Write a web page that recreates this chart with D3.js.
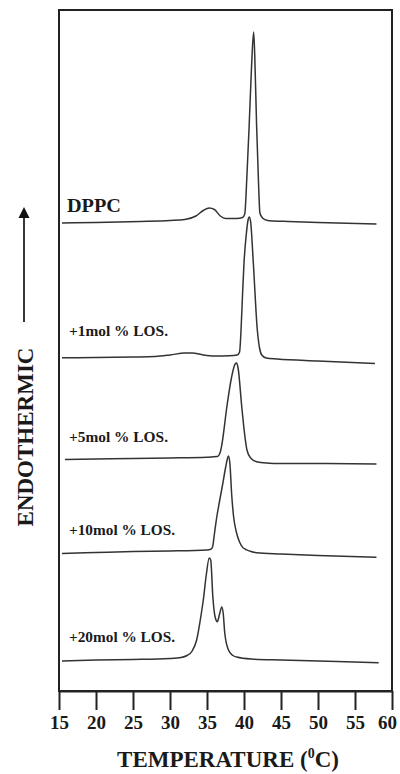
<!DOCTYPE html>
<html>
<head>
<meta charset="utf-8">
<script src="https://cdn.jsdelivr.net/npm/d3@7/dist/d3.min.js"></script>
<style>
  html, body { margin: 0; padding: 0; background: #fff; }
  svg { display: block; }
  text { font-family: "Liberation Serif", "DejaVu Serif", serif; font-weight: bold; fill: #1a1a1a; }
</style>
</head>
<body>
<svg id="chart" width="400" height="774"></svg>
<script>
// ---- Data (temperature in °C, heat flow in arbitrary offset units) ----
const seriesNames = ["DPPC", "+1mol % LOS.", "+5mol % LOS.", "+10mol % LOS.", "+20mol % LOS."];

const dppcT = [15.4, 20, 26, 30, 32, 33.5, 34.5, 35.3, 36, 36.8, 37.5, 39, 39.8, 40.1, 40.4, 40.7, 41.0, 41.3, 41.45, 41.7, 41.95, 42.15, 42.5, 43.2, 44, 46, 50, 57.9];
const dppcQ = [46.7, 46.75, 46.85, 46.95, 47.05, 47.4, 47.95, 48.2, 48.05, 47.4, 47.15, 47.15, 47.25, 47.6, 51.5, 56.5, 62.0, 65.8, 63.5, 56.5, 51.0, 47.7, 47.2, 46.95, 46.9, 46.85, 46.75, 46.6];

const los1T = [15.4, 20, 25, 28, 30, 32, 33, 34.5, 36, 38, 39.1, 39.4, 39.6, 39.8, 40.0, 40.3, 40.55, 40.72, 40.9, 41.26, 41.8, 42.1, 42.4, 43.0, 44.5, 50, 57.7];
const los1Q = [33.23, 33.25, 33.3, 33.35, 33.5, 33.7, 33.7, 33.5, 33.4, 33.42, 33.5, 33.8, 36.0, 39.5, 42.7, 45.5, 47.0, 47.3, 46.8, 42.7, 36.0, 34.2, 33.5, 33.2, 33.1, 32.9, 32.65];

const los5T = [15.8, 20, 25, 30, 35, 36.4, 36.8, 37.0, 37.7, 38.3, 38.8, 39.0, 39.2, 39.7, 40.1, 40.4, 40.9, 41.7, 43, 45, 50, 57.9];
const los5Q = [23.05, 23.1, 23.15, 23.2, 23.28, 23.35, 23.8, 24.5, 28.4, 31.2, 32.6, 32.7, 32.2, 28.3, 25.5, 24.0, 23.2, 22.83, 22.7, 22.65, 22.65, 22.6];

const los10T = [15.4, 20, 25, 30, 35, 35.5, 35.75, 36.0, 36.3, 36.7, 37.1, 37.5, 37.75, 37.9, 38.1, 38.33, 38.6, 39.0, 39.4, 39.9, 41.7, 45, 50, 57.9];
const los10Q = [13.65, 13.75, 13.85, 13.9, 14.0, 14.08, 14.3, 15.6, 17.2, 18.9, 20.5, 22.2, 23.1, 23.4, 22.6, 19.6, 17.3, 15.7, 14.8, 14.2, 13.73, 13.6, 13.45, 13.27];

const los20T = [15.4, 20, 25, 30, 31.5, 32.3, 33.0, 33.6, 34.2, 34.5, 34.9, 35.3, 35.5, 35.8, 36.1, 36.4, 36.7, 37.0, 37.2, 37.4, 37.9, 38.5, 39.0, 41, 45, 50, 58.2];
const los20Q = [2.9, 3.0, 3.05, 3.15, 3.25, 3.45, 3.9, 5.0, 7.5, 9.0, 11.5, 13.2, 13.0, 9.2, 7.3, 6.83, 7.6, 8.3, 7.6, 5.7, 4.0, 3.45, 3.3, 3.1, 3.0, 2.9, 2.73];

const xTicks = [15, 20, 25, 30, 35, 40, 45, 50, 55, 60];
const xTitle = "TEMPERATURE (";
const yTitle = "ENDOTHERMIC";

// ---- Layout ----
const plot = { left: 59, right: 392, top: 10, bottom: 691 };
const labelLayout = [
  { x: 67, y: 212, size: 18, len: 54 },
  { x: 69, y: 336, size: 15, len: 99 },
  { x: 69, y: 442, size: 15, len: 99 },
  { x: 69, y: 535, size: 15, len: 106 },
  { x: 69, y: 642, size: 15, len: 106 }
];

const svg = d3.select("#chart");

const x = d3.scaleLinear().domain([15, 60]).range([plot.left, plot.right]);
const y = d3.scaleLinear().domain([0, 68]).range([690, 10]);

// frame
svg.append("rect")
  .attr("x", plot.left).attr("y", plot.top)
  .attr("width", plot.right - plot.left).attr("height", plot.bottom - plot.top)
  .attr("fill", "none").attr("stroke", "#222").attr("stroke-width", 2);

// x axis
const axis = d3.axisBottom(x).tickValues(xTicks).tickSize(19).tickSizeOuter(0).tickPadding(6).tickFormat(d3.format("d"));
const gx = svg.append("g").attr("transform", `translate(0,${plot.bottom})`).call(axis);
gx.select(".domain").attr("stroke", "#222").attr("stroke-width", 2);
gx.selectAll(".tick line").attr("stroke", "#222").attr("stroke-width", 2);
gx.selectAll(".tick text")
  .attr("font-family", "Liberation Serif, serif")
  .attr("font-weight", "bold")
  .attr("font-size", 19)
  .attr("fill", "#1a1a1a")
  .attr("dx", d => d === 60 ? -5 : 0);

// x title
const xt = svg.append("text")
  .attr("x", 228).attr("y", 767)
  .attr("text-anchor", "middle")
  .attr("font-size", 23);
xt.append("tspan").text(xTitle);
xt.append("tspan").attr("font-size", 14).attr("dy", -9).text("0");
xt.append("tspan").attr("dy", 9).text("C)");

// y title and arrow
svg.append("text")
  .attr("transform", "translate(32.5,437) rotate(-90)")
  .attr("text-anchor", "middle")
  .attr("font-size", 23)
  .text(yTitle);
svg.append("line")
  .attr("x1", 24).attr("x2", 24).attr("y1", 322).attr("y2", 216)
  .attr("stroke", "#222").attr("stroke-width", 1.8);
svg.append("path")
  .attr("d", d3.line()([[24, 207], [18.5, 218], [29.5, 218]]) + "Z")
  .attr("fill", "#111");

// traces
const traces = [
  d3.zip(dppcT, dppcQ),
  d3.zip(los1T, los1Q),
  d3.zip(los5T, los5Q),
  d3.zip(los10T, los10Q),
  d3.zip(los20T, los20Q)
];
const line = d3.line().x(d => x(d[0])).y(d => y(d[1])).curve(d3.curveMonotoneX);
svg.append("g").selectAll("path").data(traces).join("path")
  .attr("d", line)
  .attr("fill", "none")
  .attr("stroke", "#333")
  .attr("stroke-width", 1.5)
  .attr("stroke-linejoin", "round");

// series labels
svg.append("g").selectAll("text").data(seriesNames).join("text")
  .attr("x", (d, i) => labelLayout[i].x)
  .attr("y", (d, i) => labelLayout[i].y)
  .attr("font-size", (d, i) => labelLayout[i].size)
  .attr("textLength", (d, i) => labelLayout[i].len)
  .attr("lengthAdjust", "spacingAndGlyphs")
  .text(d => d);
</script>
</body>
</html>
